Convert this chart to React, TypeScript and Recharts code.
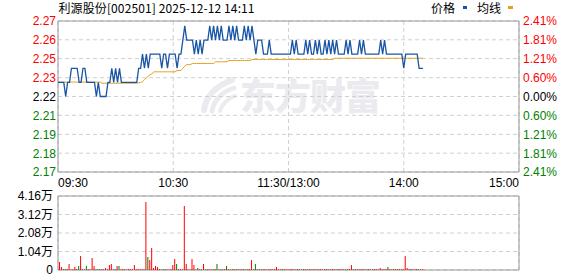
import {
  Bar,
  BarChart,
  CartesianGrid,
  Cell,
  Line,
  LineChart,
  ReferenceArea,
  XAxis,
  YAxis,
} from "recharts";

const title = "利源股份[002501] 2025-12-12 14:11";
const prevClose = 2.22;
const pctSteps = [2.41, 1.81, 1.21, 0.6, 0, -0.6, -1.21, -1.81, -2.41];
const priceLabels = ["2.27", "2.26", "2.25", "2.23", "2.22", "2.21", "2.19", "2.18", "2.17"];
const pctLabels = ["2.41%", "1.81%", "1.21%", "0.60%", "0.00%", "0.60%", "1.21%", "1.81%", "2.41%"];
const timeTicks = [0, 60, 120, 180, 240];
const timeLabels = ["09:30", "10:30", "11:30/13:00", "14:00", "15:00"];
const volTicks = [0, 10400, 20800, 31200, 41600];
const volLabels = ["0", "1.04万", "2.08万", "3.12万", "4.16万"];

// one value per minute, 09:30 .. 14:11
const prices = [
  2.23, 2.23, 2.23, 2.23, 2.22, 2.23, 2.23, 2.24, 2.24, 2.24,
  2.24, 2.23, 2.23, 2.24, 2.24, 2.23, 2.23, 2.23, 2.23, 2.23,
  2.22, 2.23, 2.22, 2.22, 2.22, 2.22, 2.23, 2.23, 2.24, 2.23,
  2.24, 2.23, 2.24, 2.23, 2.23, 2.23, 2.23, 2.23, 2.23, 2.23,
  2.23, 2.23, 2.24, 2.24, 2.25, 2.24, 2.25, 2.24, 2.25, 2.25,
  2.25, 2.25, 2.25, 2.25, 2.24, 2.25, 2.25, 2.24, 2.25, 2.25,
  2.25, 2.25, 2.24, 2.25, 2.25, 2.26, 2.27, 2.26, 2.26, 2.26,
  2.26, 2.25, 2.26, 2.25, 2.26, 2.25, 2.26, 2.26, 2.26, 2.27,
  2.26, 2.27, 2.26, 2.27, 2.26, 2.27, 2.26, 2.26, 2.26, 2.27,
  2.26, 2.27, 2.26, 2.27, 2.26, 2.26, 2.26, 2.27, 2.26, 2.27,
  2.26, 2.27, 2.26, 2.25, 2.26, 2.26, 2.26, 2.25, 2.25, 2.25,
  2.26, 2.25, 2.25, 2.25, 2.25, 2.25, 2.25, 2.25, 2.25, 2.25,
  2.25, 2.25, 2.26, 2.25, 2.26, 2.25, 2.25, 2.25, 2.25, 2.26,
  2.25, 2.26, 2.25, 2.25, 2.26, 2.25, 2.26, 2.25, 2.25, 2.26,
  2.25, 2.26, 2.25, 2.26, 2.25, 2.26, 2.25, 2.25, 2.25, 2.25,
  2.26, 2.25, 2.26, 2.25, 2.25, 2.25, 2.25, 2.26, 2.25, 2.26,
  2.25, 2.25, 2.25, 2.25, 2.25, 2.25, 2.25, 2.25, 2.26, 2.25,
  2.26, 2.25, 2.25, 2.25, 2.25, 2.25, 2.25, 2.25, 2.25, 2.25,
  2.24, 2.25, 2.25, 2.25, 2.25, 2.25, 2.25, 2.25, 2.24, 2.24,
  2.24,
];

const avgPrices = [
  2.2302, 2.2302, 2.2302, 2.2302, 2.2302, 2.2302, 2.2302, 2.2302, 2.2302, 2.2302,
  2.2302, 2.2302, 2.2302, 2.2302, 2.2302, 2.2302, 2.2302, 2.2302, 2.2302, 2.2302,
  2.2302, 2.2302, 2.2302, 2.2294, 2.2294, 2.2294, 2.2294, 2.2294, 2.2294, 2.2294,
  2.2294, 2.2294, 2.2294, 2.2294, 2.2294, 2.2294, 2.2294, 2.2294, 2.2294, 2.2294,
  2.2294, 2.2294, 2.2297, 2.23, 2.2305, 2.2318, 2.2332, 2.2345, 2.2355, 2.2362,
  2.2375, 2.2375, 2.2375, 2.2375, 2.2375, 2.2375, 2.2375, 2.2375, 2.2375, 2.2375,
  2.2375, 2.2375, 2.2384, 2.2384, 2.2384, 2.24, 2.2415, 2.2426, 2.2426, 2.2426,
  2.2434, 2.2434, 2.2434, 2.2434, 2.2434, 2.2434, 2.2434, 2.2434, 2.2434, 2.2434,
  2.2434, 2.2434, 2.2446, 2.2446, 2.2446, 2.2446, 2.2446, 2.2446, 2.2446, 2.2455,
  2.2455, 2.2455, 2.2455, 2.2455, 2.2455, 2.2455, 2.2455, 2.2455, 2.2455, 2.2455,
  2.2455, 2.2462, 2.2462, 2.2462, 2.2462, 2.2462, 2.2462, 2.2462, 2.2462, 2.2462,
  2.2462, 2.2462, 2.2462, 2.2462, 2.2462, 2.2462, 2.2462, 2.2462, 2.2462, 2.2462,
  2.2462, 2.2462, 2.2462, 2.2462, 2.2462, 2.2462, 2.2462, 2.2462, 2.2462, 2.2462,
  2.2462, 2.2462, 2.2462, 2.2462, 2.2462, 2.2462, 2.2462, 2.2462, 2.2462, 2.2462,
  2.2462, 2.2462, 2.2462, 2.2462, 2.2471, 2.2471, 2.2471, 2.2471, 2.2471, 2.2471,
  2.2471, 2.2471, 2.2471, 2.2471, 2.2471, 2.2471, 2.2471, 2.2471, 2.2471, 2.2471,
  2.2471, 2.2471, 2.2471, 2.2471, 2.2471, 2.2471, 2.2471, 2.2471, 2.2471, 2.2471,
  2.2471, 2.2471, 2.2471, 2.2471, 2.2471, 2.2471, 2.2471, 2.2471, 2.2471, 2.2471,
  2.2471, 2.2471, 2.2471, 2.2471, 2.2471, 2.2471, 2.2471, 2.2471, 2.2471, 2.2471,
  2.2471,
];

const volumes = [
  300, 4500, 1700, 560, 560, 560, 3400, 400, 400, 1700,
  560, 2250, 7900, 400, 400, 2250, 400, 400, 6700, 2250,
  400, 560, 560, 400, 400, 1100, 400, 2800, 3400, 400,
  400, 2250, 2250, 400, 500, 400, 400, 500, 400, 400,
  2800, 400, 400, 500, 400, 400, 38200, 7300, 5600, 12400,
  1100, 2250, 1700, 560, 400, 400, 400, 400, 400, 400,
  2800, 6200, 3400, 400, 400, 400, 36000, 3400, 400, 400,
  6200, 2800, 400, 1100, 400, 400, 3400, 400, 400, 500,
  400, 400, 500, 3400, 400, 400, 400, 500, 2250, 400,
  400, 500, 400, 400, 500, 400, 400, 500, 400, 400,
  500, 5600, 400, 3400, 400, 500, 400, 400, 500, 400,
  400, 500, 400, 500, 1700, 400, 400, 500, 400, 400,
  400, 400, 500, 400, 400, 500, 400, 400, 500, 400,
  400, 500, 400, 400, 500, 400, 400, 500, 400, 400,
  500, 400, 400, 500, 400, 400, 500, 400, 400, 500,
  400, 400, 500, 2800, 400, 400, 500, 400, 400, 500,
  400, 400, 500, 400, 400, 500, 400, 400, 1100, 400,
  400, 500, 1700, 400, 400, 500, 400, 400, 500, 400,
  400, 7900, 1100, 400, 500, 400, 400, 500, 400, 400,
  400,
];

// minutes whose volume bar is green
const downMinutes = [
  4, 11, 15, 20, 21, 22, 30, 32, 47, 54, 55, 62, 73, 75, 78, 81, 83, 85, 88,
  91, 94, 97, 100, 103, 105, 108, 117, 123, 128, 131, 135, 139, 142, 146, 150,
  155, 160, 163, 166, 172, 176, 184, 187,
];

const RED = "#ff0000";
const GREEN = "#008000";
const PRICE_COLOR = "#1a55a5";
const AVG_COLOR = "#e2a11e";
const WATERMARK = "#ebebef";
const tickFont = '"Liberation Sans", Arial, "Noto Sans CJK SC", sans-serif';
const cjkFont = '"Noto Sans CJK SC", sans-serif';

const priceTickValues = pctSteps.map((p) => prevClose * (1 + p / 100));
const priceDomain = [
  priceTickValues[priceTickValues.length - 1],
  priceTickValues[0],
];

const priceData = prices.map((p, i) => ({ t: i, price: p, avg: avgPrices[i] }));
const volumeData = volumes.map((v, i) => ({ t: i, v }));

const tickColor = (i: number) => (i < 4 ? RED : i === 4 ? "#000" : GREEN);
const findTick = (value: number) =>
  priceTickValues.findIndex((v) => Math.abs(v - value) < 1e-6);

const PriceTick = ({ x, y, payload }: any) => {
  const i = findTick(payload.value);
  return (
    <text x={x} y={y} dy="0.36em" textAnchor="end" fill={tickColor(i)} fontSize={12} fontFamily={tickFont}>
      {priceLabels[i]}
    </text>
  );
};

const PctTick = ({ x, y, payload }: any) => {
  const i = findTick(payload.value);
  return (
    <text x={x} y={y} dy="0.36em" textAnchor="start" fill={tickColor(i)} fontSize={12} fontFamily={tickFont}>
      {pctLabels[i]}
    </text>
  );
};

const TimeTick = ({ x, y, payload }: any) => {
  const i = timeTicks.indexOf(payload.value);
  const anchor = i === 0 ? "start" : i === timeTicks.length - 1 ? "end" : "middle";
  return (
    <text x={x} y={y} dy="0.71em" textAnchor={anchor} fill="#000" fontSize={12} fontFamily={tickFont}>
      {timeLabels[i]}
    </text>
  );
};

const VolTick = ({ x, y, payload }: any) => {
  const i = volTicks.indexOf(payload.value);
  return (
    <text x={x} y={y} dy="0.36em" textAnchor="end" fill="#000" fontSize={12} fontFamily={tickFont}>
      {volLabels[i]}
    </text>
  );
};

export default function App() {
  return (
    <div style={{ position: "absolute", left: 0, top: 0, width: 578, height: 276, background: "#fff", overflow: "hidden" }}>
      {/* watermark: logo swirl + brand name */}
      <svg width={578} height={276} style={{ position: "absolute", left: 0, top: 0 }}>
        <g fill="none" stroke={WATERMARK} strokeLinecap="round">
          <path d="M204 110 C 206 96, 216 86, 232 80" strokeWidth={6} />
          <path d="M212 111 C 214 100, 222 92, 234 88" strokeWidth={5} />
          <path d="M220 111 C 222 104, 228 98, 235 96" strokeWidth={4} />
        </g>
      </svg>
      <div
        style={{
          position: "absolute",
          left: 240,
          top: 76,
          fontSize: 36,
          lineHeight: "36px",
          fontWeight: 900,
          color: WATERMARK,
          fontFamily: cjkFont,
          letterSpacing: -1,
        }}
      >
        东方财富
      </div>

      <svg width={578} height={20} style={{ position: "absolute", left: 0, top: 0 }}>
        <text x={58.5} y={13} fontSize={12} fontFamily={cjkFont} fill="#000" textLength={196} lengthAdjust="spacing">
          {title}
        </text>
        <text x={431} y={13} fontSize={12} fontFamily={cjkFont} fill="#000">
          价格
        </text>
        <rect x={463} y={6} width={4} height={3} fill={PRICE_COLOR} />
        <text x={477} y={13} fontSize={12} fontFamily={cjkFont} fill="#000">
          均线
        </text>
        <rect x={508} y={6} width={5} height={3} fill={AVG_COLOR} />
      </svg>

      <div style={{ position: "absolute", left: 0, top: 0 }}>
        <LineChart width={578} height={195} data={priceData} margin={{ top: 21, right: 0, bottom: 0, left: 0 }}>
          <CartesianGrid stroke="#d0d0d0" strokeDasharray="4 3" />
          <XAxis
            dataKey="t"
            type="number"
            domain={[0, 240]}
            ticks={timeTicks}
            interval={0}
            height={23}
            tickSize={0}
            tickMargin={6}
            axisLine={false}
            tick={<TimeTick />}
            allowDataOverflow
          />
          <YAxis
            type="number"
            domain={priceDomain}
            ticks={priceTickValues}
            interval={0}
            width={58}
            tickSize={0}
            tickMargin={2}
            axisLine={false}
            tick={<PriceTick />}
            allowDataOverflow
          />
          <YAxis
            yAxisId="right"
            orientation="right"
            type="number"
            domain={priceDomain}
            ticks={priceTickValues}
            interval={0}
            width={59}
            tickSize={0}
            tickMargin={4}
            axisLine={false}
            tick={<PctTick />}
            allowDataOverflow
          />
          <ReferenceArea
            x1={0}
            x2={240}
            y1={priceDomain[0]}
            y2={priceDomain[1]}
            fill="none"
            stroke="#999"
            strokeWidth={1}
            ifOverflow="visible"
          />
          <Line
            yAxisId="right"
            type="linear"
            dataKey="avg"
            stroke={AVG_COLOR}
            strokeWidth={1}
            dot={false}
            isAnimationActive={false}
          />
          <Line
            type="linear"
            dataKey="price"
            stroke={PRICE_COLOR}
            strokeWidth={1.3}
            dot={false}
            isAnimationActive={false}
          />
        </LineChart>
      </div>

      <div style={{ position: "absolute", left: 0, top: 190 }}>
        <BarChart width={578} height={86} data={volumeData} margin={{ top: 6, right: 59, bottom: 6, left: 0 }}>
          <CartesianGrid stroke="#d0d0d0" strokeDasharray="4 3" />
          <XAxis
            dataKey="t"
            type="number"
            domain={[0, 240]}
            ticks={timeTicks}
            interval={0}
            height={0}
            tick={false}
            tickLine={false}
            axisLine={false}
            allowDataOverflow
          />
          <YAxis
            type="number"
            domain={[0, 41600]}
            ticks={volTicks}
            interval={0}
            width={58}
            tickSize={0}
            tickMargin={5}
            axisLine={false}
            tick={<VolTick />}
            allowDataOverflow
          />
          <ReferenceArea
            x1={0}
            x2={240}
            y1={0}
            y2={41600}
            fill="none"
            stroke="#999"
            strokeWidth={1}
            ifOverflow="visible"
          />
          <Bar dataKey="v" barSize={1} isAnimationActive={false}>
            {volumeData.map((d) => (
              <Cell key={d.t} fill={downMinutes.includes(d.t) ? GREEN : RED} />
            ))}
          </Bar>
        </BarChart>
      </div>
    </div>
  );
}
